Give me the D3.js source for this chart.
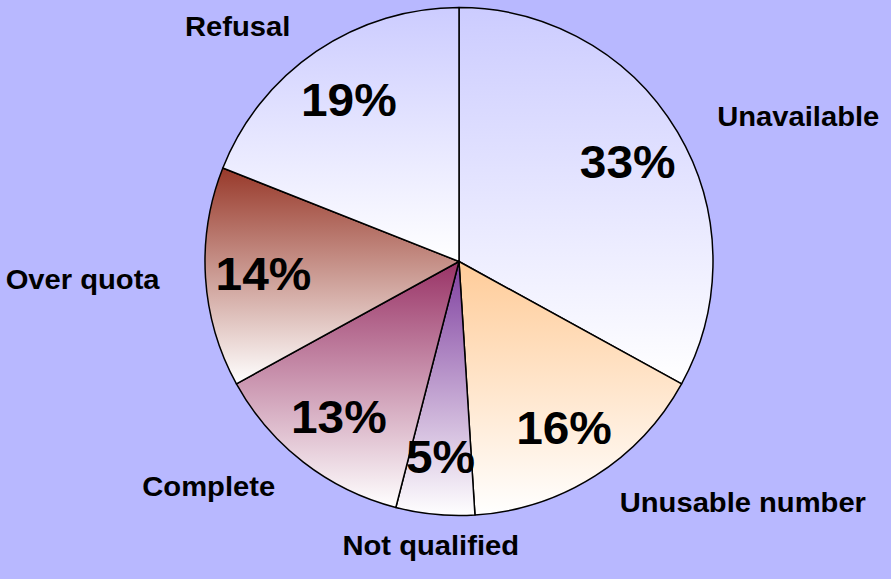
<!DOCTYPE html>
<html>
<head>
<meta charset="utf-8">
<script src="https://cdn.jsdelivr.net/npm/d3@7"></script>
<style>
  html, body { margin: 0; padding: 0; background: #b8b8ff; }
  svg { display: block; }
  text { font-family: "Liberation Sans", Arial, sans-serif; font-weight: bold; fill: #000; }
</style>
</head>
<body>
<svg id="chart" width="891" height="579"></svg>
<script>
// Data
const categories = ["Unavailable", "Unusable number", "Not qualified", "Complete", "Over quota", "Refusal"];
const values = [33, 16, 5, 13, 14, 19];
const percentLabels = ["33%", "16%", "5%", "13%", "14%", "19%"];
const topColors = ["#ccccff", "#ffcc99", "#7f3f9f", "#993366", "#98392a", "#ccccff"];

const W = 891, H = 579;
const cx = 459, cy = 261.5, R = 254;

const svg = d3.select("#chart");
svg.append("rect").attr("width", W).attr("height", H).attr("fill", "#b8b8ff");

const defs = svg.append("defs");
topColors.forEach((c, i) => {
  const g = defs.append("linearGradient")
    .attr("id", "grad" + i)
    .attr("x1", 0).attr("y1", 0).attr("x2", 0).attr("y2", 1);
  g.append("stop").attr("offset", "0%").attr("stop-color", c);
  g.append("stop").attr("offset", "100%").attr("stop-color", "#ffffff");
});

const pie = d3.pie().sort(null).value(d => d);
const arcs = pie(values);
const arc = d3.arc().innerRadius(0).outerRadius(R);
const pctArc = d3.arc().innerRadius(196).outerRadius(196);

// outside label anchor on a slightly flattened ellipse
const LRX = 300, LRY = 285;
const lblPos = d => {
  const a = (d.startAngle + d.endAngle) / 2;
  return [LRX * Math.sin(a), -LRY * Math.cos(a)];
};

const g = svg.append("g").attr("transform", `translate(${cx},${cy})`);

g.selectAll("path.slice")
  .data(arcs)
  .join("path")
  .attr("class", "slice")
  .attr("d", arc)
  .attr("fill", (d, i) => `url(#grad${i})`)
  .attr("stroke", "#000")
  .attr("stroke-width", 1.5)
  .attr("stroke-linejoin", "round");

g.selectAll("text.pct")
  .data(arcs)
  .join("text")
  .attr("class", "pct")
  .attr("transform", d => `translate(${pctArc.centroid(d)}) scale(1.04,1)`)
  .attr("text-anchor", "middle")
  .attr("dy", "0.36em")
  .style("font-size", "46px")
  .text((d, i) => percentLabels[i]);

g.selectAll("text.lbl")
  .data(arcs)
  .join("text")
  .attr("class", "lbl")
  .attr("transform", d => `translate(${lblPos(d)}) scale(1.08,1)`)
  .attr("text-anchor", d => {
    const x = lblPos(d)[0];
    return x > 40 ? "start" : (x < -40 ? "end" : "middle");
  })
  .attr("dy", "0.36em")
  .style("font-size", "27px")
  .text((d, i) => categories[i]);
</script>
</body>
</html>
